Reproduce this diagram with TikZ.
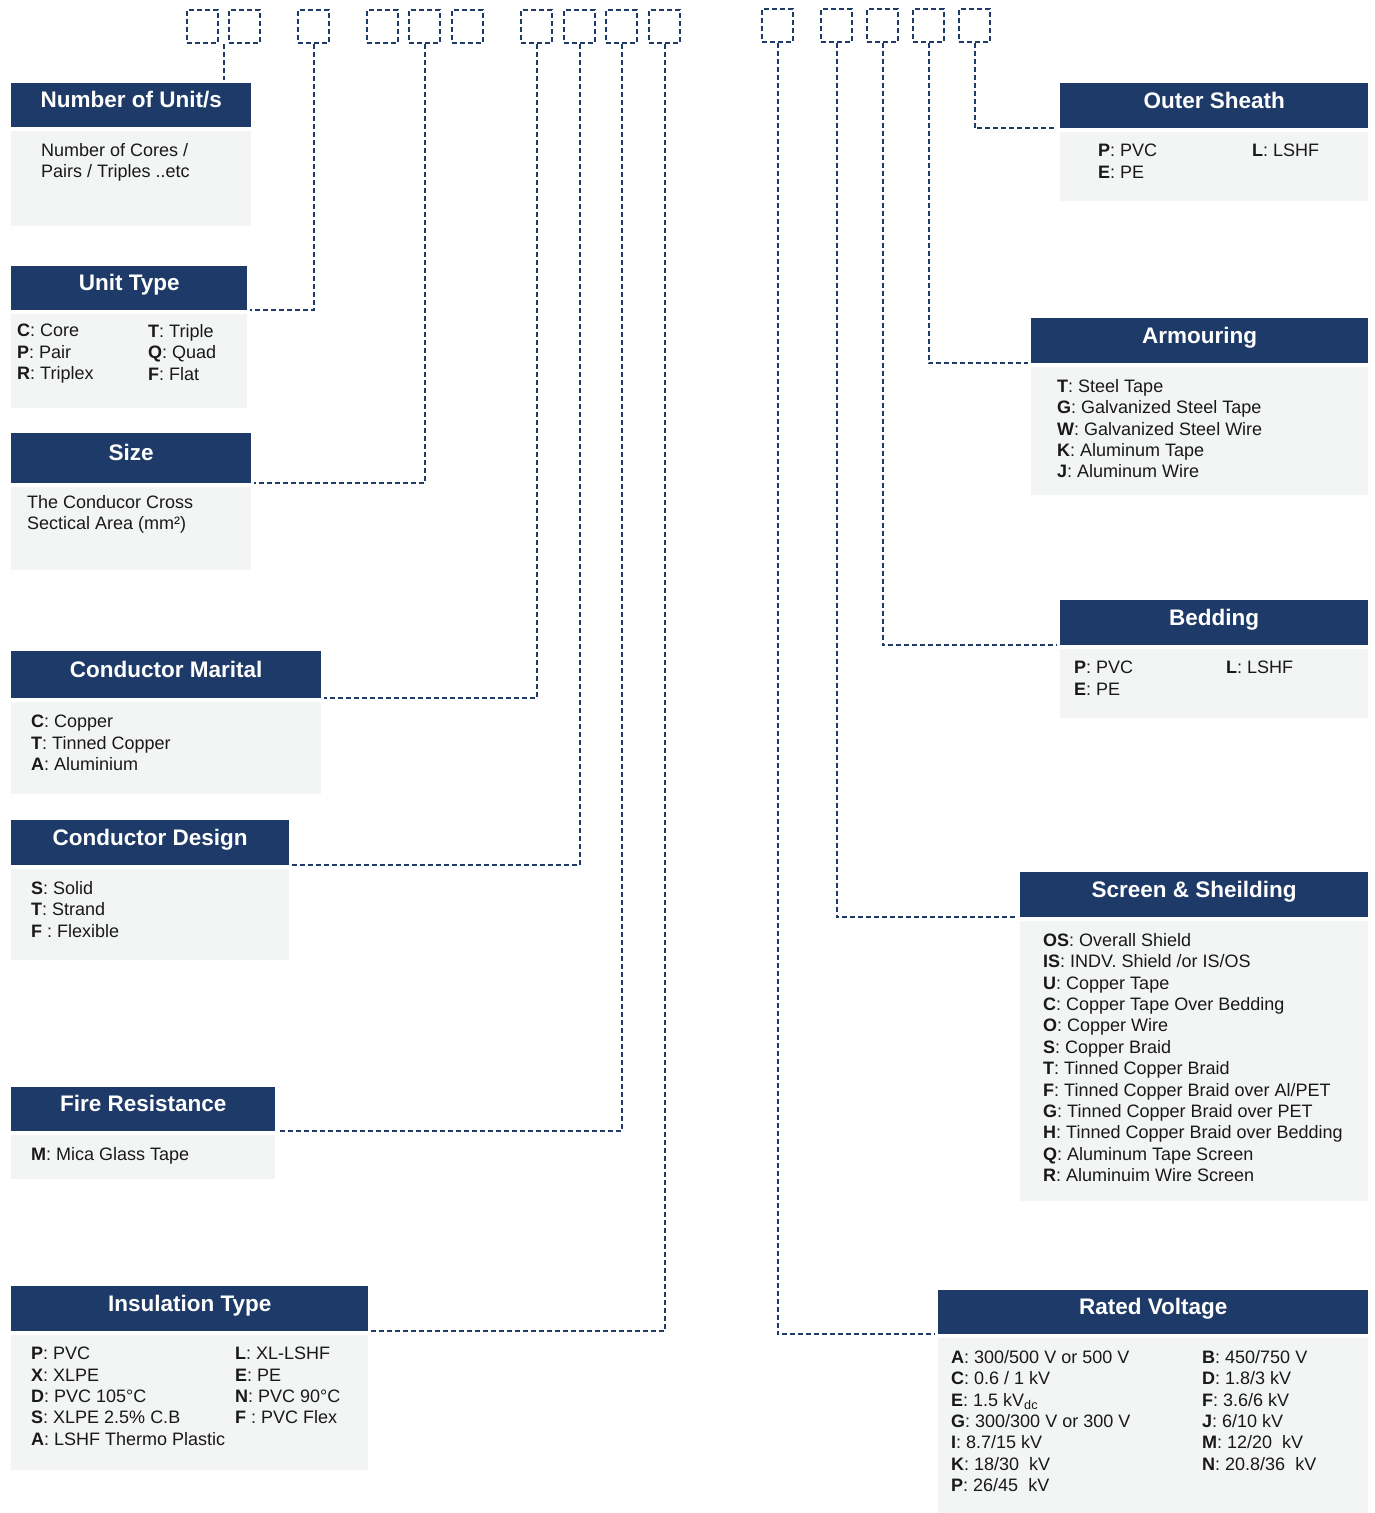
\documentclass[tikz,border=0pt]{standalone}
\usepackage{fontspec}
\setmainfont{Liberation Sans}
\usetikzlibrary{positioning,calc}
\definecolor{navy}{RGB}{30,58,104}
\definecolor{panelgray}{RGB}{243,244,244}
\newcommand{\itemfont}{\fontsize{18}{21.4}\selectfont}
\newcommand{\headfont}{\fontsize{22.5}{26}\selectfont\bfseries}

\begin{document}
\begin{tikzpicture}[x=1pt,y=1pt,node distance=3pt,
  head/.style={fill=navy,text=white,font=\headfont,anchor=north west,inner sep=0pt,
    text height=0.75em,text depth=0.2em},
  panel/.style={fill=panelgray,anchor=north west,inner sep=0pt},
  entry/.style={font=\itemfont,align=left,anchor=north west,inner sep=0pt,text=black!90,
    execute at begin node=\strut},
  codebox/.style={draw=navy,line width=2pt,dash pattern=on 5pt off 3pt,
    minimum width=31pt,minimum height=33pt,anchor=north west,inner sep=0pt},
  link/.style={draw=navy,line width=2pt,dash pattern=on 5pt off 3pt,shorten >=3pt}]

  \useasboundingbox (0,0) rectangle (1375,-1513);

  % code boxes
  \node[codebox] (u1) at (186,-9) {};
  \node[codebox] (u2) at (228,-9) {};
  \node[codebox] (t1) at (297,-9) {};
  \node[codebox] (s1) at (366,-9) {};
  \node[codebox] (s2) at (408,-9) {};
  \node[codebox] (s3) at (451,-9) {};
  \node[codebox] (m1) at (520,-9) {};
  \node[codebox] (d1) at (563,-9) {};
  \node[codebox] (f1) at (605,-9) {};
  \node[codebox] (i1) at (648,-9) {};
  \node[codebox] (v1) at (761,-8) {};
  \node[codebox] (c1) at (820,-8) {};
  \node[codebox] (b1) at (866,-8) {};
  \node[codebox] (a1) at (912,-8) {};
  \node[codebox] (o1) at (958,-8) {};

  % left panels
  \node[head,minimum width=240pt,minimum height=44pt] (units) at (11,-83) {Number of Unit/s};
  \node[panel,minimum width=240pt,minimum height=95pt,below=of units.south west,anchor=north west] (unitsbody) {};
  \node[entry] (unitsitems) at (41,-143) {Number of Cores /\\Pairs / Triples ..etc};

  \node[head,minimum width=236pt,minimum height=44pt] (utype) at (11,-266) {Unit Type};
  \node[panel,minimum width=236pt,minimum height=94pt,below=of utype.south west,anchor=north west] (utypebody) {};
  \node[entry] (utypeitemsa) at (17,-324) {\textbf{C}: Core\\\textbf{P}: Pair\\\textbf{R}: Triplex};
  \node[entry] (utypeitemsb) at (148,-324) {\textbf{T}: Triple\\\textbf{Q}: Quad\\\textbf{F}: Flat};

  \node[head,minimum width=240pt,minimum height=50pt] (size) at (11,-433) {Size};
  \node[panel,minimum width=240pt,minimum height=83pt,below=of size.south west,anchor=north west] (sizebody) {};
  \node[entry] (sizeitems) at (27,-495) {The Conducor Cross\\Sectical Area (mm²)};

  \node[head,minimum width=310pt,minimum height=47pt] (marital) at (11,-651) {Conductor Marital};
  \node[panel,minimum width=310pt,minimum height=92pt,below=of marital.south west,anchor=north west] (maritalbody) {};
  \node[entry] (maritalitems) at (31,-715) {\textbf{C}: Copper\\\textbf{T}: Tinned Copper\\\textbf{A}: Aluminium};

  \node[head,minimum width=278pt,minimum height=45pt] (design) at (11,-820) {Conductor Design};
  \node[panel,minimum width=278pt,minimum height=91pt,below=of design.south west,anchor=north west] (designbody) {};
  \node[entry] (designitems) at (31,-881) {\textbf{S}: Solid\\\textbf{T}: Strand\\\textbf{F} : Flexible};

  \node[head,minimum width=264pt,minimum height=44pt] (fire) at (11,-1087) {Fire Resistance};
  \node[panel,minimum width=264pt,minimum height=44pt,below=of fire.south west,anchor=north west] (firebody) {};
  \node[entry] (fireitems) at (31,-1145) {\textbf{M}: Mica Glass Tape};

  \node[head,minimum width=357pt,minimum height=45pt] (insul) at (11,-1286) {Insulation Type};
  \node[panel,minimum width=357pt,minimum height=135pt,below=of insul.south west,anchor=north west] (insulbody) {};
  \node[entry] (insulitemsa) at (31,-1347) {\textbf{P}: PVC\\\textbf{X}: XLPE\\\textbf{D}: PVC 105°C\\\textbf{S}: XLPE 2.5\% C.B\\\textbf{A}: LSHF Thermo Plastic};
  \node[entry] (insulitemsb) at (235,-1347) {\textbf{L}: XL-LSHF\\\textbf{E}: PE\\\textbf{N}: PVC 90°C\\\textbf{F} : PVC Flex};

  % right panels
  \node[head,minimum width=308pt,minimum height=45pt] (sheath) at (1060,-83) {Outer Sheath};
  \node[panel,minimum width=308pt,minimum height=69pt,below=of sheath.south west,anchor=north west] (sheathbody) {};
  \node[entry] (sheathitemsa) at (1098,-144) {\textbf{P}: PVC\\\textbf{E}: PE};
  \node[entry] (sheathitemsb) at (1252,-141) {\textbf{L}: LSHF};

  \node[head,minimum width=337pt,minimum height=45pt] (armour) at (1031,-318) {Armouring};
  \node[panel,minimum width=337pt,minimum height=128pt,below=of armour.south west,anchor=north west] (armourbody) {};
  \node[entry] (armouritems) at (1057,-379) {\textbf{T}: Steel Tape\\\textbf{G}: Galvanized Steel Tape\\\textbf{W}: Galvanized Steel Wire\\\textbf{K}: Aluminum Tape\\\textbf{J}: Aluminum Wire};

  \node[head,minimum width=308pt,minimum height=45pt] (bedding) at (1060,-600) {Bedding};
  \node[panel,minimum width=308pt,minimum height=69pt,below=of bedding.south west,anchor=north west] (beddingbody) {};
  \node[entry] (beddingitemsa) at (1074,-661) {\textbf{P}: PVC\\\textbf{E}: PE};
  \node[entry] (beddingitemsb) at (1226,-658) {\textbf{L}: LSHF};

  \node[head,minimum width=348pt,minimum height=45pt] (screen) at (1020,-872) {Screen \& Sheilding};
  \node[panel,minimum width=348pt,minimum height=280pt,below=of screen.south west,anchor=north west] (screenbody) {};
  \node[entry] (screenitems) at (1043,-933) {\textbf{OS}: Overall Shield\\\textbf{IS}: INDV. Shield /or IS/OS\\\textbf{U}: Copper Tape\\\textbf{C}: Copper Tape Over Bedding\\\textbf{O}: Copper Wire\\\textbf{S}: Copper Braid\\\textbf{T}: Tinned Copper Braid\\\textbf{F}: Tinned Copper Braid over Al/PET\\\textbf{G}: Tinned Copper Braid over PET\\\textbf{H}: Tinned Copper Braid over Bedding\\\textbf{Q}: Aluminum Tape Screen\\\textbf{R}: Aluminuim Wire Screen};

  \node[head,minimum width=430pt,minimum height=44pt] (volt) at (938,-1290) {Rated Voltage};
  \node[panel,minimum width=430pt,minimum height=175pt,below=of volt.south west,anchor=north west] (voltbody) {};
  \node[entry] (voltitemsa) at (951,-1350) {\textbf{A}: 300/500 V or 500 V\\\textbf{C}: 0.6 / 1 kV\\\textbf{E}: 1.5 kV\textsubscript{dc}\\\textbf{G}: 300/300 V or 300 V\\\textbf{I}: 8.7/15 kV\\\textbf{K}: 18/30~ kV\\\textbf{P}: 26/45~ kV};
  \node[entry] (voltitemsb) at (1202,-1350) {\textbf{B}: 450/750 V\\\textbf{D}: 1.8/3 kV\\\textbf{F}: 3.6/6 kV\\\textbf{J}: 6/10 kV\\\textbf{M}: 12/20~ kV\\\textbf{N}: 20.8/36~ kV};

  % connectors
  \coordinate (uj) at ($(u1.south east)!0.5!(u2.south west)$);
  \draw[link] (uj) -- (uj |- units.north);
  \draw[link] (t1.south) |- (utype.south east);
  \draw[link] (s2.south) |- (size.south east);
  \draw[link] (m1.south) |- (marital.south east);
  \draw[link] (d1.south) |- (design.south east);
  \draw[link] (f1.south) |- (fire.south east);
  \draw[link] (i1.south) |- (insul.south east);
  \draw[link] (v1.south) |- (volt.south west);
  \draw[link] (c1.south) |- (screen.south west);
  \draw[link] (b1.south) |- (bedding.south west);
  \draw[link] (a1.south) |- (armour.south west);
  \draw[link] (o1.south) |- (sheath.south west);

\end{tikzpicture}
\end{document}
